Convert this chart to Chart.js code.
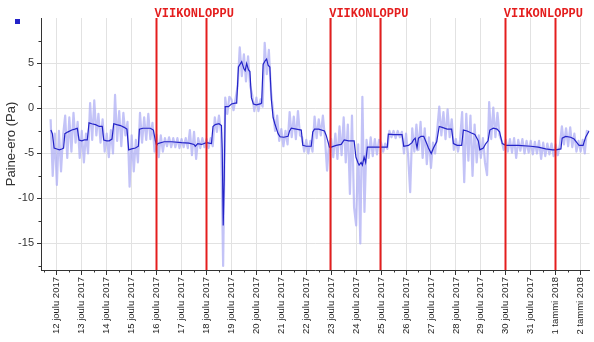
<!DOCTYPE html>
<html>
<head>
<meta charset="utf-8">
<script src="https://cdn.jsdelivr.net/npm/chart.js@4/dist/chart.umd.min.js"></script>
<style>
  html, body { margin: 0; padding: 0; background: #fff; }
  #wrap { width: 594px; height: 342px; position: relative; }
</style>
</head>
<body>
<div id="wrap"><canvas id="c" width="594" height="342"></canvas></div>
<script>
// x values are days counted from 12 Dec 2017 00:00
const dayLabels = [
  '12 joulu 2017', '13 joulu 2017', '14 joulu 2017', '15 joulu 2017', '16 joulu 2017',
  '17 joulu 2017', '18 joulu 2017', '19 joulu 2017', '20 joulu 2017', '21 joulu 2017',
  '22 joulu 2017', '23 joulu 2017', '24 joulu 2017', '25 joulu 2017', '26 joulu 2017',
  '27 joulu 2017', '28 joulu 2017', '29 joulu 2017', '30 joulu 2017', '31 joulu 2017',
  '1 tammi 2018', '2 tammi 2018'
];
const yTicks = [-15, -10, -5, 0, 5];
const yMinorTicks = [-17.5, -12.5, -7.5, -2.5, 2.5, 7.5];

// weekend markers (Saturday 00:00 and Monday 00:00)
const weekendStart = [4, 11, 18];
const weekendEnd = [6, 13, 20];
const weekendText = 'VIIKONLOPPU';

// raw pressure difference, sampled every 2 hours starting 11 Dec 18:00
const rawStart = -0.25;
const rawStepHours = 2;
const rawValues = [
  -1.2, -7.5, -2.8,
  -8.5, -2.5, -7.0, -3.0, -0.8, -5.5, -1.0, -4.8, -0.5, -3.8, -1.5, -5.5,
  -2.5, -6.0, -2.8, -5.0, 0.6, -3.5, 0.9, -3.0, -0.6, -3.8, -1.2, -4.8,
  -2.8, -5.4, -2.4, -5.0, 1.5, -3.6, -0.3, -4.2, -0.5, -3.0, -1.5, -8.7,
  -3.0, -7.0, -3.5, -6.0, -0.5, -3.8, -1.0, -3.5, -0.6, -3.4, -1.6, -4.8,
  -2.9, -5.4, -3.0, -4.8, -3.3, -4.2, -3.2, -4.3, -3.3, -4.3, -3.3, -4.4,
  -3.4, -4.3, -3.3, -4.4, -2.4, -5.2, -2.6, -5.6, -3.3, -4.4, -3.3, -4.3,
  -3.4, -4.4, -3.3, -4.2, -1.0, -2.6, -0.8, -2.7, -17.5, 1.2, -0.6, 1.3,
  1.0, -0.2, 1.1, 2.5, 6.8, 3.6, 6.0, 3.0, 5.8, 2.5, 1.5, -0.3,
  1.2, -0.3, 1.0, 0.2, 7.3, 3.8, 6.5, 2.0, -0.2, -2.5, -0.8, -3.6,
  -2.3, -4.2, -2.5, -4.0, -0.4, -3.2, -0.9, -3.4, -0.3, -3.0, -3.2, -4.8,
  -3.5, -5.0, -3.6, -4.8, -0.9, -3.3, -1.2, -3.0, -0.8, -3.3, -6.9, -3.8,
  -3.4, -5.4, -2.8, -5.6, -2.0, -5.2, -1.0, -6.0, -1.8, -9.5, -0.8, -11.0,
  -13.0, -4.0, -15.0, 1.3, -11.5, -3.5, -5.5, -3.2, -5.3, -3.4, -5.1, -3.5,
  -3.8, -4.8, -3.9, -4.5, -2.5, -3.2, -2.5, -3.3, -2.5, -3.2, -2.6, -5.0,
  -2.8, -5.2, -9.3, -2.2, -4.8, -1.8, -4.6, -1.5, -5.5, -2.2, -6.2, -3.2,
  -6.6, -3.8, -5.0, -2.4, 0.2, -3.0, -0.4, -3.4, -0.1, -3.2, -1.2, -4.6,
  -3.4, -4.8, -3.5, -0.4, -8.2, -0.6, -5.8, -0.8, -7.5, -1.8, -6.0, -3.0,
  -5.5, -3.3, -6.0, -7.4, 0.7, -3.4, 0.1, -3.2, -0.5, -3.0, -3.6, -4.6,
  -3.5, -4.8, -3.4, -4.9, -3.3, -5.5, -3.5, -4.7, -3.4, -5.0, -3.6, -4.9,
  -3.6, -5.1, -3.7, -5.0, -3.6, -5.6, -3.8, -5.3, -3.9, -5.1, -3.9, -5.3,
  -4.0, -5.2, -4.1, -2.0, -4.0, -2.2, -4.2, -2.1, -4.3, -2.8, -4.8, -3.6,
  -4.8, -3.5, -5.0, -2.5, -2.6
];

// moving average of the same signal: [day, value]
const smoothPoints = [
  [-0.24, -2.4], [-0.18, -2.8], [-0.11, -4.4], [0.0, -4.5], [0.1, -4.6], [0.2, -4.5], [0.27, -4.4],
  [0.32, -2.8], [0.45, -2.6], [0.6, -2.4], [0.72, -2.3], [0.82, -2.2], [0.89, -3.5], [1.0, -3.6],
  [1.1, -3.5], [1.22, -3.5], [1.29, -1.6], [1.4, -1.7], [1.55, -1.8], [1.7, -2.0], [1.82, -2.0],
  [1.88, -3.5], [2.0, -3.6], [2.1, -3.6], [2.21, -3.4], [2.28, -1.7], [2.4, -1.8], [2.55, -1.9],
  [2.7, -2.1], [2.81, -2.3], [2.88, -4.6], [3.0, -4.5], [3.15, -4.4], [3.27, -4.2], [3.31, -2.3],
  [3.45, -2.2], [3.6, -2.2], [3.75, -2.2], [3.87, -2.4], [3.95, -3.6], [4.0, -4.1],
  [4.05, -3.9], [4.3, -3.7], [4.6, -3.7], [5.0, -3.8], [5.3, -3.85], [5.5, -4.0], [5.55, -4.2],
  [5.65, -3.9], [5.8, -4.0], [6.0, -3.8], [6.2, -3.9], [6.26, -2.0], [6.35, -1.8], [6.5, -1.7],
  [6.6, -1.9], [6.63, -4.5], [6.67, -13.0], [6.71, -8.0], [6.75, 0.2], [6.88, 0.2], [7.0, 0.5],
  [7.15, 0.6], [7.21, 0.6], [7.28, 4.6], [7.41, 5.2], [7.5, 4.4], [7.55, 4.2], [7.61, 5.0],
  [7.68, 4.3], [7.74, 4.1], [7.8, 1.2], [7.88, 0.5], [8.0, 0.4], [8.15, 0.5], [8.21, 0.6],
  [8.27, 4.9], [8.35, 5.3], [8.41, 5.5], [8.47, 4.8], [8.54, 4.6], [8.6, 1.0], [8.67, -1.0],
  [8.74, -1.7], [8.87, -2.8], [8.95, -3.15], [9.1, -3.2], [9.27, -3.1], [9.33, -2.5], [9.4, -2.2],
  [9.6, -2.3], [9.8, -2.4], [9.86, -4.1], [10.0, -4.2], [10.2, -4.2], [10.26, -2.6], [10.33, -2.3],
  [10.5, -2.3], [10.73, -2.5], [10.8, -3.0], [10.93, -4.3], [11.0, -4.3], [11.2, -4.1],
  [11.4, -4.0], [11.52, -3.5], [11.7, -3.6], [11.92, -3.6], [11.99, -5.4], [12.07, -6.0],
  [12.12, -6.3], [12.2, -6.0], [12.25, -6.3], [12.32, -5.4], [12.38, -6.0], [12.45, -4.3],
  [12.7, -4.3], [13.0, -4.3], [13.25, -4.3], [13.29, -2.85], [13.5, -2.9], [13.84, -2.9],
  [13.91, -4.2], [14.1, -4.1], [14.24, -3.8], [14.3, -3.5], [14.37, -3.3], [14.44, -4.4],
  [14.5, -3.3], [14.6, -3.1], [14.71, -3.1], [14.8, -3.7], [14.9, -4.4], [15.01, -5.0],
  [15.1, -4.4], [15.23, -3.7], [15.33, -2.0], [15.45, -2.1], [15.65, -2.3], [15.83, -2.3],
  [15.9, -3.9], [16.05, -4.1], [16.23, -4.1], [16.3, -2.4], [16.45, -2.5], [16.6, -2.7],
  [16.76, -2.9], [16.9, -3.6], [16.96, -4.6], [17.1, -4.4], [17.2, -3.9], [17.29, -3.6],
  [17.36, -2.4], [17.5, -2.2], [17.65, -2.3], [17.75, -2.6], [17.86, -3.9], [18.0, -4.1],
  [18.5, -4.1], [19.0, -4.2], [19.3, -4.3], [19.6, -4.5], [19.88, -4.6], [20.0, -4.6],
  [20.21, -4.5], [20.26, -3.3], [20.4, -3.1], [20.6, -3.2], [20.74, -3.4], [20.85, -3.8],
  [20.94, -4.1], [21.1, -4.1], [21.2, -3.2], [21.34, -2.5]
];

const rawData = rawValues.map((v, i) => ({ x: rawStart + i * rawStepHours / 24, y: v }));
const smoothData = smoothPoints.map(p => ({ x: p[0], y: p[1] }));

Chart.defaults.font.family = '"Liberation Sans", Arial, sans-serif';

// weekend lines, their captions, minor ticks and the legend swatch
const decorations = {
  id: 'decorations',
  afterDatasetsDraw(chart) {
    const { ctx, chartArea: a, scales: { x } } = chart;
    ctx.save();
    ctx.strokeStyle = '#e41e1e';
    ctx.lineWidth = 2;
    weekendStart.concat(weekendEnd).forEach(d => {
      const px = Math.round(x.getPixelForValue(d)) - 0.5;
      ctx.beginPath();
      ctx.moveTo(px, a.top);
      ctx.lineTo(px, a.bottom);
      ctx.stroke();
    });
    ctx.restore();
  },
  afterDraw(chart) {
    const { ctx, chartArea: a, scales: { x, y } } = chart;
    ctx.save();
    ctx.fillStyle = '#e41e1e';
    ctx.font = 'bold 12px "Courier New", "Liberation Mono", monospace';
    ctx.textBaseline = 'alphabetic';
    ctx.textAlign = 'left';
    weekendStart.forEach(d => {
      ctx.fillText(weekendText, x.getPixelForValue(d) - 2, a.top - 1);
    });
    ctx.strokeStyle = '#333';
    ctx.lineWidth = 1;
    yMinorTicks.forEach(v => {
      const py = Math.round(y.getPixelForValue(v)) + 0.5;
      ctx.beginPath();
      ctx.moveTo(a.left - 2.5, py);
      ctx.lineTo(a.left, py);
      ctx.stroke();
    });
    for (let i = 0; i < dayLabels.length; i++) {
      const px = Math.round(x.getPixelForValue(i - 0.5)) + 0.5;
      ctx.beginPath();
      ctx.moveTo(px, a.bottom);
      ctx.lineTo(px, a.bottom + 2.5);
      ctx.stroke();
    }
    ctx.fillStyle = '#2323c8';
    ctx.fillRect(15, 19, 5, 5);
    ctx.restore();
  }
};

new Chart(document.getElementById('c'), {
  type: 'line',
  data: {
    datasets: [
      {
        label: 'Keskiarvo',
        data: smoothData,
        borderColor: '#2424c8',
        borderWidth: 1.2,
        pointRadius: 0,
        tension: 0,
        order: 0
      },
      {
        label: 'Paine-ero',
        data: rawData,
        borderColor: 'rgba(172,172,244,0.72)',
        borderWidth: 2.2,
        borderJoinStyle: 'round',
        pointRadius: 0,
        tension: 0,
        order: 1
      }
    ]
  },
  options: {
    responsive: false,
    animation: false,
    devicePixelRatio: 1,
    layout: { padding: { top: 18, right: 0, left: 0, bottom: 0 } },
    plugins: { legend: { display: false }, tooltip: { enabled: false } },
    scales: {
      x: {
        type: 'linear',
        min: -0.636,
        max: 21.36,
        afterBuildTicks: s => { s.ticks = dayLabels.map((_, i) => ({ value: i })); },
        afterFit: s => { s.height = 72; },
        ticks: {
          autoSkip: false,
          minRotation: 90,
          maxRotation: 90,
          padding: 2,
          color: '#222',
          font: { size: 9.5 },
          callback: (v, i) => dayLabels[i]
        },
        grid: { color: '#e2e2e2', tickColor: '#333', tickLength: 5 },
        border: { color: '#333' }
      },
      y: {
        type: 'linear',
        min: -17.95,
        max: 10.05,
        afterBuildTicks: s => { s.ticks = yTicks.map(v => ({ value: v })); },
        afterFit: s => { s.width = 41; },
        ticks: {
          padding: 3,
          color: '#333',
          font: { size: 11 },
          callback: v => String(v)
        },
        grid: { color: '#e2e2e2', tickColor: '#333', tickLength: 4 },
        border: { color: '#333' },
        title: {
          display: true,
          text: 'Paine-ero (Pa)',
          color: '#333',
          font: { size: 13 },
          padding: { top: 4, bottom: 0 }
        }
      }
    }
  },
  plugins: [decorations]
});
</script>
</body>
</html>
